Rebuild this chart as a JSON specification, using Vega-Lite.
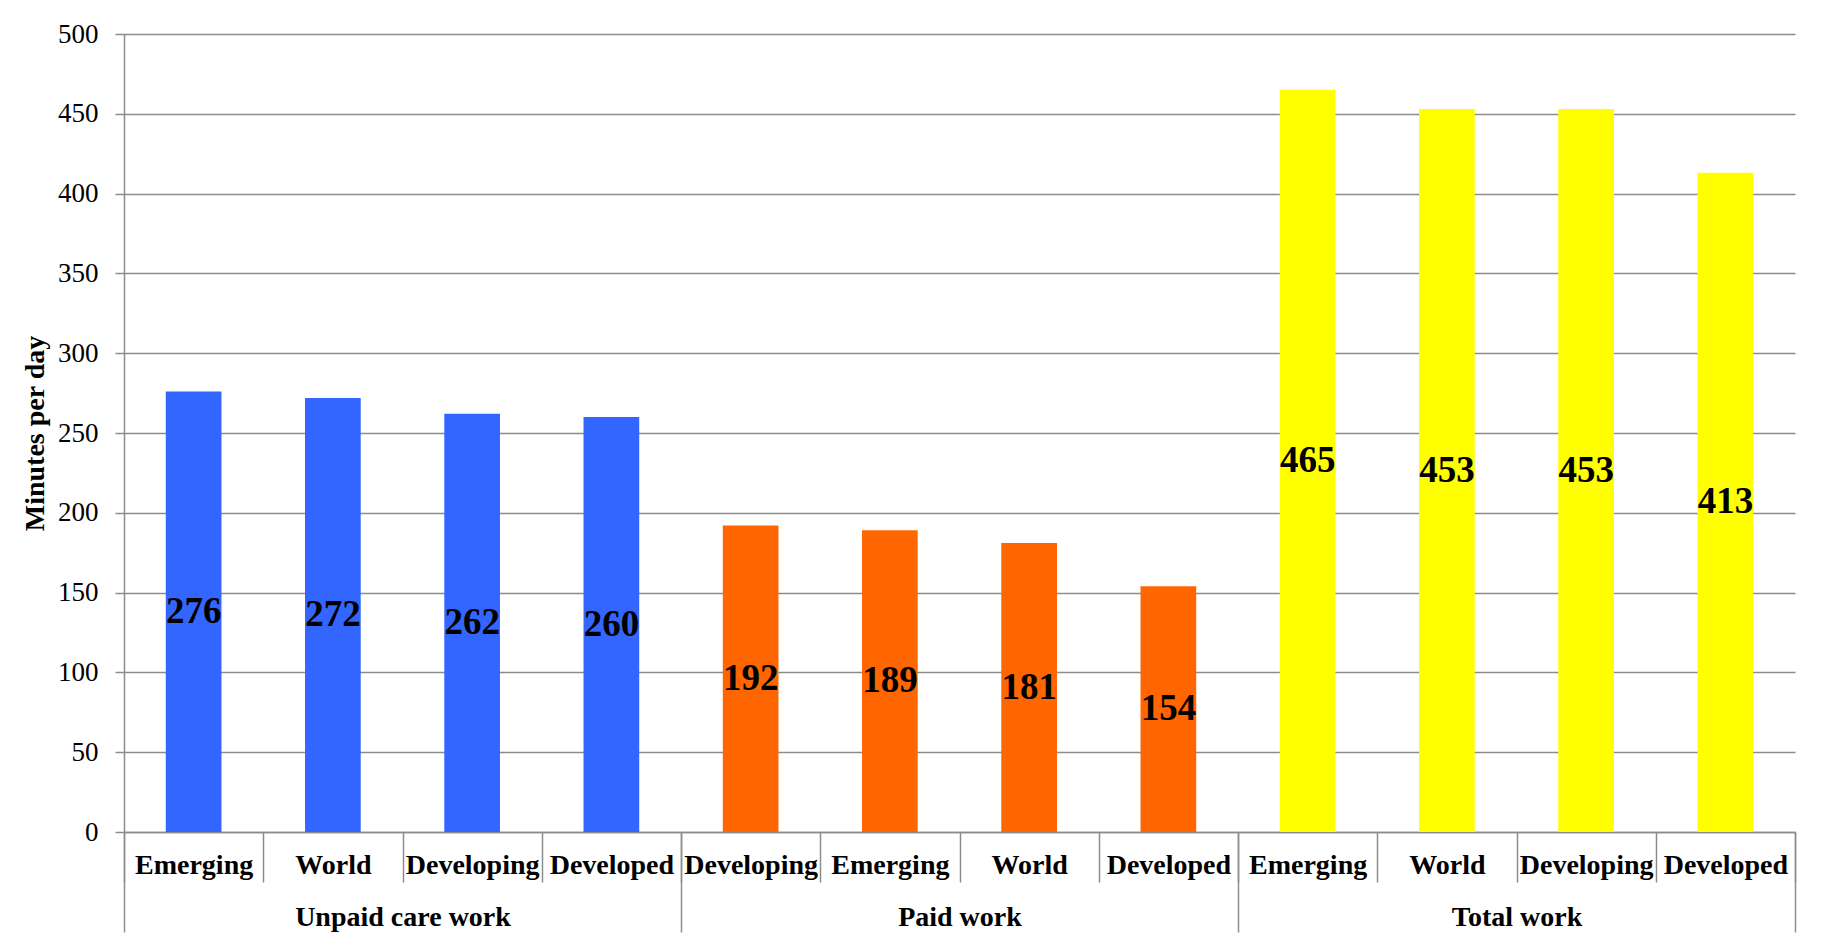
{
  "$schema": "https://vega.github.io/schema/vega-lite/v6.json",
  "width": 1671,
  "height": 798,
  "autosize": {"type": "none"},
  "padding": {"left": 124, "top": 34, "right": 39, "bottom": 116},
  "background": "white",
  "config": {"view": {"stroke": null}, "font": "Liberation Serif"},
  "data": {
    "values": [
      {"group": "Unpaid care work", "region": "Emerging", "key": "Unpaid care work|Emerging", "value": 276},
      {"group": "Unpaid care work", "region": "World", "key": "Unpaid care work|World", "value": 272},
      {"group": "Unpaid care work", "region": "Developing", "key": "Unpaid care work|Developing", "value": 262},
      {"group": "Unpaid care work", "region": "Developed", "key": "Unpaid care work|Developed", "value": 260},
      {"group": "Paid work", "region": "Developing", "key": "Paid work|Developing", "value": 192},
      {"group": "Paid work", "region": "Emerging", "key": "Paid work|Emerging", "value": 189},
      {"group": "Paid work", "region": "World", "key": "Paid work|World", "value": 181},
      {"group": "Paid work", "region": "Developed", "key": "Paid work|Developed", "value": 154},
      {"group": "Total work", "region": "Emerging", "key": "Total work|Emerging", "value": 465},
      {"group": "Total work", "region": "World", "key": "Total work|World", "value": 453},
      {"group": "Total work", "region": "Developing", "key": "Total work|Developing", "value": 453},
      {"group": "Total work", "region": "Developed", "key": "Total work|Developed", "value": 413}
    ]
  },
  "layer": [
    {
      "mark": {"type": "bar", "width": {"band": 0.4}},
      "encoding": {
        "x": {
          "field": "key", "type": "nominal", "sort": null,
          "scale": {"paddingInner": 0, "paddingOuter": 0},
          "axis": {
            "orient": "bottom",
            "title": null,
            "labelExpr": "split(datum.label, '|')[1]",
            "labelAngle": 0,
            "labelFont": "Liberation Serif",
            "labelFontSize": 28,
            "labelFontWeight": "bold",
            "labelColor": "black",
            "labelBaseline": "middle",
            "labelPadding": -17,
            "labelOverlap": false,
            "labelBound": false,
            "labelLimit": 0,
            "tickBand": "extent",
            "tickSize": 50,
            "tickColor": "#8c8c8c",
            "tickWidth": 1.5,
            "domainColor": "#8c8c8c",
            "domainWidth": 1.5,
            "grid": false
          }
        },
        "y": {
          "field": "value", "type": "quantitative",
          "scale": {"domain": [0, 500], "nice": false},
          "axis": {
            "title": "Minutes per day",
            "titleFont": "Liberation Serif",
            "titleFontSize": 28,
            "titleFontWeight": "bold",
            "titleColor": "black",
            "titlePadding": 8,
            "labelFont": "Liberation Serif",
            "labelFontSize": 27,
            "labelColor": "black",
            "labelPadding": 17,
            "tickSize": 9,
            "tickColor": "#8c8c8c",
            "tickWidth": 1.5,
            "domainColor": "#8c8c8c",
            "domainWidth": 1.5,
            "grid": true,
            "gridColor": "#8c8c8c",
            "gridWidth": 1.5,
            "values": [0, 50, 100, 150, 200, 250, 300, 350, 400, 450, 500]
          }
        },
        "color": {
          "field": "group", "type": "nominal",
          "scale": {"domain": ["Unpaid care work", "Paid work", "Total work"], "range": ["#3366FF", "#FF6600", "#FFFF00"]},
          "legend": null
        }
      }
    },
    {
      "transform": [{"calculate": "datum.value / 2", "as": "mid"}],
      "mark": {"type": "text", "font": "Liberation Serif", "fontSize": 37, "fontWeight": "bold", "baseline": "middle", "align": "center", "color": "black"},
      "encoding": {
        "x": {"field": "key", "type": "nominal", "sort": null, "scale": {"paddingInner": 0, "paddingOuter": 0}, "axis": null},
        "y": {
          "field": "mid", "type": "quantitative",
          "axis": {
            "title": "Minutes per day",
            "titleFont": "Liberation Serif",
            "titleFontSize": 28,
            "titleFontWeight": "bold",
            "titleColor": "black",
            "titlePadding": 8,
            "labelFont": "Liberation Serif",
            "labelFontSize": 27,
            "labelColor": "black",
            "labelPadding": 17,
            "tickSize": 9,
            "tickColor": "#8c8c8c",
            "tickWidth": 1.5,
            "domainColor": "#8c8c8c",
            "domainWidth": 1.5,
            "grid": true,
            "gridColor": "#8c8c8c",
            "gridWidth": 1.5,
            "values": [0, 50, 100, 150, 200, 250, 300, 350, 400, 450, 500]
          }
        },
        "text": {"field": "value", "type": "quantitative"}
      }
    },
    {
      "mark": {"type": "bar", "opacity": 0},
      "encoding": {
        "x": {
          "field": "group", "type": "nominal", "sort": null,
          "scale": {"paddingInner": 0, "paddingOuter": 0},
          "axis": {
            "orient": "bottom",
            "title": null,
            "labelAngle": 0,
            "labelFont": "Liberation Serif",
            "labelFontSize": 28,
            "labelFontWeight": "bold",
            "labelColor": "black",
            "labelBaseline": "middle",
            "labelPadding": -15,
            "labelLimit": 0,
            "tickBand": "extent",
            "tickSize": 100,
            "tickColor": "#8c8c8c",
            "tickWidth": 1.5,
            "domain": false,
            "grid": false
          }
        }
      }
    }
  ],
  "resolve": {"scale": {"x": "independent"}, "axis": {"x": "independent"}}
}
